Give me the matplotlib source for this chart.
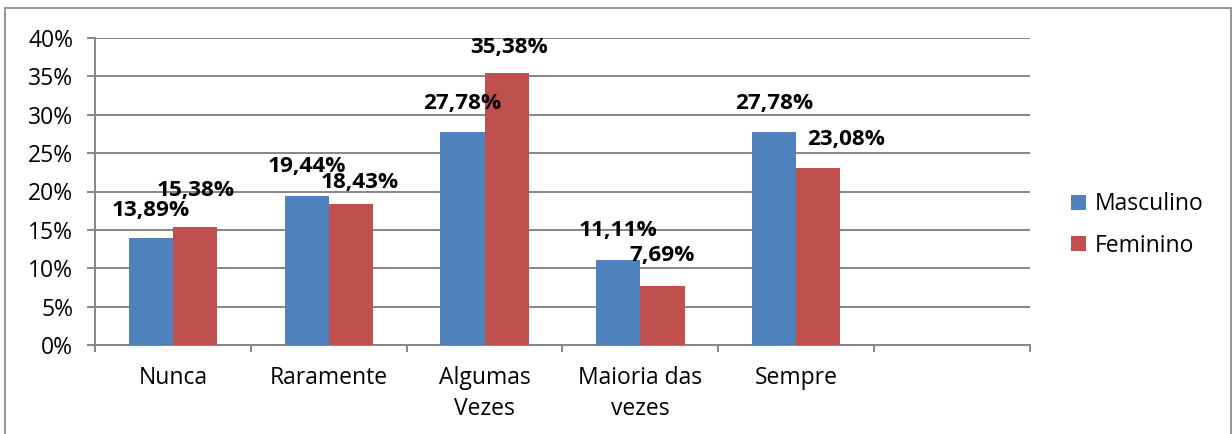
import matplotlib
matplotlib.use("Agg")
import matplotlib.pyplot as plt
from matplotlib.patches import Rectangle
import numpy as np

plt.rcParams['font.family'] = ['Open Sans', 'DejaVu Sans']

categories = ["Nunca", "Raramente", "Algumas\nVezes", "Maioria das\nvezes", "Sempre", ""]
masculino = [13.89, 19.44, 27.78, 11.11, 27.78]
feminino = [15.38, 18.43, 35.38, 7.69, 23.08]
series_names = ["Masculino", "Feminino"]
yticks = [0, 5, 10, 15, 20, 25, 30, 35, 40]

# label offsets (pixels) relative to bar top centre, mimicking the original placement
masc_dx = [0, 0, 0, 0, 0]
masc_dy = [28, 29, 28, 29, 28]
fem_dx = [1, 9, 2, 0, 28]
fem_dy = [36, 21, 26, 30, 28]

BLUE = "#4F81BD"
RED = "#C0504D"
GRID = "#868686"
FS = 16.5
FSB = 16.2

W, H = 1232, 434
fig = plt.figure(figsize=(W / 100, H / 100), dpi=100)
ax = fig.add_axes([95 / W, (H - 345) / H, (1030 - 95) / W, (345 - 38) / H])

n = len(categories)
x = np.arange(n)
bw = 0.283
xm = x[:len(masculino)] - bw / 2
xf = x[:len(feminino)] + bw / 2
bm = ax.bar(xm, masculino, bw, color=BLUE, label=series_names[0], zorder=3)
bf = ax.bar(xf, feminino, bw, color=RED, label=series_names[1], zorder=3)

def fmt(v):
    return f"{v:.2f}".replace(".", ",") + "%"

for xi, v, dx, dy in zip(xm, masculino, masc_dx, masc_dy):
    ax.annotate(fmt(v), (xi, v), xytext=(dx, dy), textcoords="offset pixels",
                ha="center", va="center", fontsize=FSB, fontweight="bold", zorder=5)
for xi, v, dx, dy in zip(xf, feminino, fem_dx, fem_dy):
    ax.annotate(fmt(v), (xi, v), xytext=(dx, dy), textcoords="offset pixels",
                ha="center", va="center", fontsize=FSB, fontweight="bold", zorder=5)

ax.set_xlim(-0.5, n - 0.5)
ax.set_ylim(0, 40)
ax.set_yticks(yticks)
ax.set_yticklabels([f"{t}%" for t in yticks], fontsize=FS)
ax.tick_params(axis="y", length=5.8, width=1.4, color=GRID, pad=10)

ax.set_xticks(np.arange(n + 1) - 0.5)
ax.set_xticklabels([])
ax.tick_params(axis="x", which="major", length=5, width=1.4, color=GRID, direction="out")
ax.set_xticks(x, minor=True)
ax.set_xticklabels(categories, minor=True, fontsize=FS, linespacing=1.4)
ax.tick_params(axis="x", which="minor", length=0, pad=15)

ax.yaxis.grid(True, color=GRID, lw=1.4)
ax.set_axisbelow(True)
for s in ["top", "right"]:
    ax.spines[s].set_visible(False)
for s in ["left", "bottom"]:
    ax.spines[s].set_color(GRID)
    ax.spines[s].set_linewidth(1.4)

fig.legend(handles=[bm, bf], labels=series_names, loc="center left",
           bbox_to_anchor=(1071 / W, (H - 225) / H), frameon=False, fontsize=FS,
           handlelength=0.65, handleheight=0.65, handletextpad=0.4,
           labelspacing=0.75, borderpad=0, borderaxespad=0)

fig.patches.append(Rectangle((5 / W, -0.05), (1231 - 5) / W, (H - 8) / H + 0.05,
                             transform=fig.transFigure, fill=False,
                             edgecolor="#8C8C8C", lw=1.3))

fig.savefig("out.png", dpi=100)
